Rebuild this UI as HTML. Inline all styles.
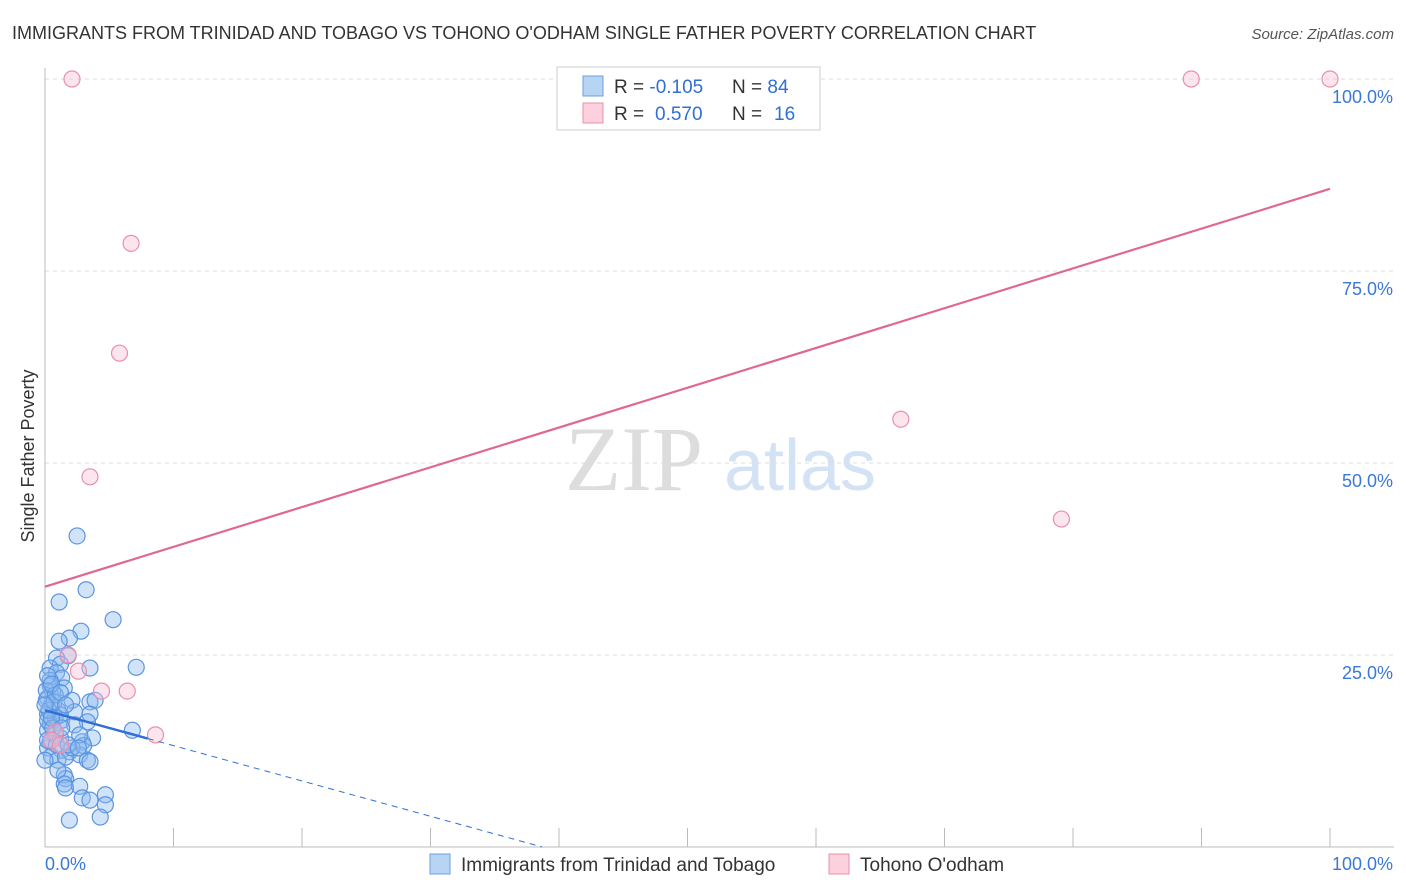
<!DOCTYPE html>
<html><head><meta charset="utf-8"><style>
body{margin:0;background:#fff;font-family:"Liberation Sans",sans-serif;}
svg{display:block}
</style></head><body>
<svg id="chart" width="1406" height="892" xmlns="http://www.w3.org/2000/svg">
<text x="12" y="39" font-size="18" fill="#333">IMMIGRANTS FROM TRINIDAD AND TOBAGO VS TOHONO O'ODHAM SINGLE FATHER POVERTY CORRELATION CHART</text>
<text x="1394" y="39" font-size="15" fill="#555" font-style="italic" text-anchor="end">Source: ZipAtlas.com</text>
<text x="634" y="490" font-size="92" fill="#ddd" font-family="Liberation Serif,serif" text-anchor="middle">ZIP</text>
<text x="800" y="490" font-size="72" fill="#d3e3f5" text-anchor="middle">atlas</text>
<text transform="translate(34,456) rotate(-90)" font-size="18" fill="#333" text-anchor="middle">Single Father Poverty</text>
<g id="grid"></g><g id="marks"></g>
<g>
<rect x="557" y="67" width="263" height="63" fill="#fff" stroke="#ccc"/>
<rect x="583" y="76" width="20" height="20" fill="#b8d4f5" stroke="#6a9fe0"/>
<rect x="583" y="103" width="20" height="20" fill="#fcd0dc" stroke="#e890aa"/>
<text x="614" y="93" font-size="19" fill="#333">R = <tspan fill="#2f6fd6">-0.105</tspan><tspan x="732">N = </tspan><tspan fill="#2f6fd6">84</tspan></text>
<text x="614" y="120" font-size="19" fill="#333">R = <tspan x="655" fill="#2f6fd6">0.570</tspan><tspan x="732">N = </tspan><tspan x="774" fill="#2f6fd6">16</tspan></text>
</g>
<g>
<rect x="430" y="854" width="20" height="20" fill="#b8d4f5" stroke="#6a9fe0"/>
<text x="461" y="871" font-size="19" fill="#333">Immigrants from Trinidad and Tobago</text>
<rect x="829" y="854" width="20" height="20" fill="#fcd0dc" stroke="#e890aa"/>
<text x="860" y="871" font-size="19" fill="#333">Tohono O'odham</text>
</g>
</svg>
<script>
const blueX=[2.5,3.2,1.1,5.3,2.8,1.9,1.1,7.1,3.5,1.8,0.9,1.2,0.4,0.9,1.3,0.4,1.5,0.6,2.1,3.5,3.9,0.2,0.5,1.0,2.3,3.5,0.2,0.8,1.3,0.4,3.3,6.8,0.2,0.8,1.2,2.9,3.7,0.4,0.2,1.3,1.9,2.7,0.5,1.0,1.6,3.3,3.5,1.5,1.6,1.5,1.6,2.7,2.9,3.5,4.7,4.7,1.9,4.3,0.2,0.1,0.1,0.4,0.8,0.2,0.6,0.9,1.2,2.1,3.0,0.3,0.5,0.7,0.0,0.2,0.5,1.2,1.6,2.3,2.7,1.0,0.0,1.8,2.6,1.3];
const blueY=[40.5,33.5,31.9,29.6,28.1,27.2,26.8,23.4,23.3,24.9,24.6,23.8,23.3,22.7,22.0,21.0,20.7,20.2,19.1,18.9,19.1,19.4,18.5,17.8,17.6,17.3,17.3,16.8,16.5,16.0,16.3,15.2,15.2,14.6,14.2,13.7,14.2,13.7,12.9,12.6,12.4,12.0,11.8,11.3,11.7,11.3,11.1,9.4,8.9,8.2,7.7,7.9,6.4,6.1,6.8,5.5,3.5,3.9,16.5,19.1,20.4,21.7,19.8,13.9,15.5,13.3,17.2,12.9,13.2,17.8,16.8,18.9,18.5,22.3,21.2,20.1,18.5,15.9,14.6,10.0,11.3,13.3,12.9,15.5];
const pinkX=[2.1,89.2,100,6.7,5.8,3.5,66.6,79.1,1.8,2.6,4.4,6.4,8.6,0.8,0.5,1.2];
const pinkY=[100,100,100,78.6,64.3,48.2,55.7,42.7,25.0,22.9,20.3,20.3,14.6,15.0,13.9,13.3];
const pinkFit=[33.9,0.518];
const blueFit=[17.8,-0.46];
const yTicks=[25,50,75,100];
const yTickLabels=["25.0%","50.0%","75.0%","100.0%"];
const xTickVals=[0,10,20,30,40,50,60,70,80,90,100];
const NS="http://www.w3.org/2000/svg";
const sx=v=>45+v*12.85, sy=v=>847-v*7.68;
const grid=document.getElementById('grid'), marks=document.getElementById('marks');
function mk(p,tag,a){const e=document.createElementNS(NS,tag);for(const k in a)e.setAttribute(k,a[k]);p.appendChild(e);return e;}
yTicks.forEach((t,i)=>{
 const l=mk(grid,'line',{x1:45,x2:1394,y1:sy(t),y2:sy(t),stroke:'#ddd','stroke-dasharray':'4,4'});
 
 
 const tx=mk(grid,'text',{x:1393,y:sy(t)+24,'font-size':18,fill:'#3a78d8','text-anchor':'end'});
 tx.textContent=yTickLabels[i];
 
 
});
const ax=mk(grid,'line',{x1:45,x2:45,y1:68,y2:847,stroke:'#bbb'});


const bx=mk(grid,'line',{x1:45,x2:1394,y1:847,y2:847,stroke:'#bbb'});


xTickVals.forEach(v=>{
 const t=mk(grid,'line',{x1:sx(v),x2:sx(v),y1:828,y2:847,stroke:'#bbb'});
 
 
});
const x0=mk(grid,'text',{x:45,y:870,'font-size':18,fill:'#3a78d8'});x0.textContent='0.0%';


const x1=mk(grid,'text',{x:1393,y:870,'font-size':18,fill:'#3a78d8','text-anchor':'end'});x1.textContent='100.0%';


blueX.forEach((v,i)=>{
 const c=mk(marks,'circle',{cx:sx(v),cy:sy(blueY[i]),r:8,fill:'rgba(140,185,240,0.4)',stroke:'#5b95e0','stroke-width':1.2});
 
 
});
pinkX.forEach((v,i)=>{
 const c=mk(marks,'circle',{cx:sx(v),cy:sy(pinkY[i]),r:8,fill:'rgba(250,190,210,0.4)',stroke:'#e890aa','stroke-width':1.2});
 
 
});
const pl=mk(marks,'line',{x1:sx(0),y1:sy(pinkFit[0]),x2:sx(100),y2:sy(pinkFit[0]+pinkFit[1]*100),stroke:'#e06890','stroke-width':2.2});


const bEnd=8, bZero=-blueFit[0]/blueFit[1];
const bl=mk(marks,'line',{x1:sx(0),y1:sy(blueFit[0]),x2:sx(bEnd),y2:sy(blueFit[0]+blueFit[1]*bEnd),stroke:'#2f6fd6','stroke-width':2.5});


const bd=mk(marks,'line',{x1:sx(bEnd),y1:sy(blueFit[0]+blueFit[1]*bEnd),x2:sx(bZero),y2:sy(0),stroke:'#2f6fd6','stroke-width':1,'stroke-dasharray':'6,5'});


</script>
</body></html>
